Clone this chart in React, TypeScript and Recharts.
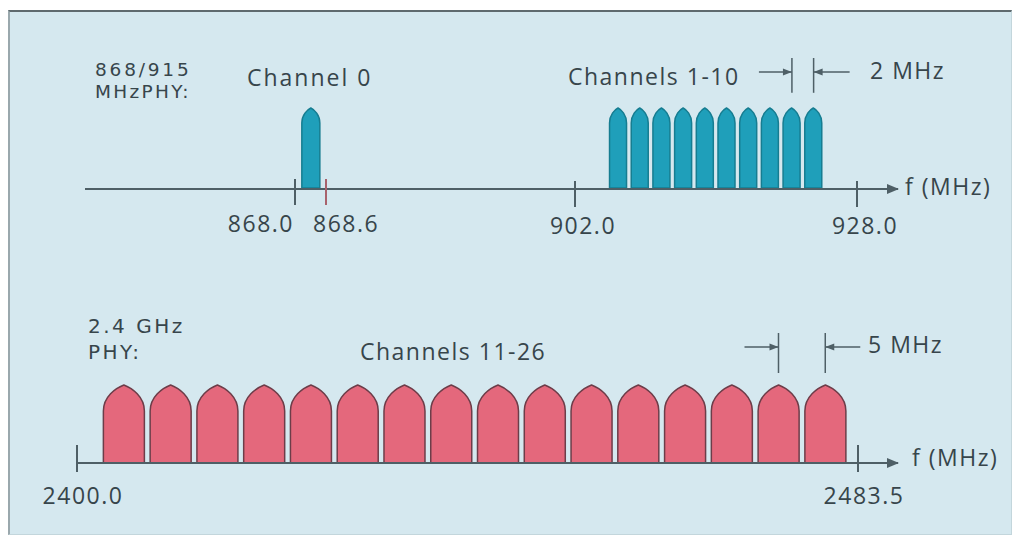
import { ComposedChart, Bar, XAxis, YAxis, ReferenceLine } from 'recharts';

const W = 1018;
const H = 543;

const PANEL_BG = '#d5e8ef';
const INK = '#37454b';
const AXIS = '#4e5f66';
const TEAL = '#1f9fba';
const TEAL_EDGE = '#167d91';
const PINK = '#e4687c';
const PINK_EDGE = '#6d3d49';
const FONT = '"Open Sans", "DejaVu Sans", sans-serif';
const SIDE_FONT = '"DejaVu Sans", sans-serif';

// 868/915 MHz PHY
const SUBGHZ_CHANNELS = [0, 1, 2, 3, 4, 5, 6, 7, 8, 9, 10];
const SUBGHZ_CENTER_MHZ = [868.3, 906, 908, 910, 912, 914, 916, 918, 920, 922, 924];
const BAND_868_EDGES = [868.0, 868.6];
const BAND_915_EDGES = [902.0, 928.0];
const SUBGHZ_SPACING_MHZ = [922, 924]; // 2 MHz apart

// 2.4 GHz PHY
const GHZ_CHANNELS = [11, 12, 13, 14, 15, 16, 17, 18, 19, 20, 21, 22, 23, 24, 25, 26];
const GHZ_CENTER_MHZ = [
  2405, 2410, 2415, 2420, 2425, 2430, 2435, 2440, 2445, 2450, 2455, 2460, 2465, 2470, 2475, 2480,
];
const BAND_2400_EDGES = [2400.0, 2483.5];
const GHZ_SPACING_MHZ = [2475, 2480]; // 5 MHz apart

// every channel is drawn at the same relative level
const CHANNEL_LEVEL = 1;

const subGhzData = SUBGHZ_CHANNELS.map((ch, i) => ({
  ch,
  f: SUBGHZ_CENTER_MHZ[i],
  eu: ch === 0 ? CHANNEL_LEVEL : null,
  us: ch > 0 ? CHANNEL_LEVEL : null,
}));

const ghzData = GHZ_CHANNELS.map((ch, i) => ({
  ch,
  f: GHZ_CENTER_MHZ[i],
  level: CHANNEL_LEVEL,
}));

// pointed "bullet" spectrum shape for a channel
const archShape = (fill: string, stroke: string, shoulder: number) => (p: any) => {
  const { x, y, width: w, height: h } = p;
  if (!(h > 0) || !(w > 0)) return null;
  const b = y + h;
  const s = y + Math.min(shoulder, h);
  const d =
    `M${x},${b} L${x},${s} ` +
    `C${x},${s - shoulder * 0.55} ${x + w * 0.3},${y + shoulder * 0.12} ${x + w / 2},${y} ` +
    `C${x + w * 0.7},${y + shoulder * 0.12} ${x + w},${s - shoulder * 0.55} ${x + w},${s} ` +
    `L${x + w},${b} Z`;
  return <path d={d} fill={fill} stroke={stroke} strokeWidth={1.5} strokeLinejoin="round" />;
};

// channel spacing marker: vertical line with an arrow pointing at it
const spacingMark = (side: 'left' | 'right', len: number) => (p: any) => {
  const { x1, y1, x2, y2 } = p;
  const x = x1;
  const ay = Math.min(y1, y2) + 14;
  const dir = side === 'left' ? -1 : 1;
  return (
    <g>
      <line x1={x1} y1={y1} x2={x2} y2={y2} stroke={AXIS} strokeWidth={1.5} />
      <line x1={x + dir * len} y1={ay} x2={x} y2={ay} stroke={AXIS} strokeWidth={1.5} />
      <path d={`M${x},${ay} L${x + dir * 9},${ay - 3.5} L${x + dir * 9},${ay + 3.5} Z`} fill={AXIS} />
    </g>
  );
};

interface TickStyle {
  up: number;
  down: number;
  labelDy: number;
  align?: ('start' | 'middle' | 'end')[];
  dx?: number[];
  colors?: string[];
}

const freqTick = (t: TickStyle) => (props: any) => {
  const { x, y, payload, index } = props;
  const anchor = t.align ? t.align[index] : 'middle';
  const dx = t.dx ? t.dx[index] : 0;
  const color = t.colors ? t.colors[index] : AXIS;
  return (
    <g>
      <line x1={x} x2={x} y1={y - t.up} y2={y + t.down} stroke={color} strokeWidth={2} />
      <text
        x={x + dx}
        y={y + t.labelDy}
        textAnchor={anchor}
        fontFamily={FONT}
        fontSize={23}
        letterSpacing={1.5}
        fill={INK}
      >
        {Number(payload.value).toFixed(1)}
      </text>
    </g>
  );
};

function SubGhzChart() {
  return (
    <ComposedChart
      width={W}
      height={265}
      data={subGhzData}
      margin={{ top: 28, right: 120, bottom: 75, left: 85 }}
    >
      <XAxis
        xAxisId="us"
        type="number"
        dataKey="f"
        domain={BAND_915_EDGES}
        allowDataOverflow
        ticks={BAND_915_EDGES}
        interval={0}
        padding={{ left: 490, right: 41 }}
        height={1}
        tickSize={0}
        tickMargin={0}
        tickLine={false}
        axisLine={{ stroke: AXIS, strokeWidth: 2, markerEnd: 'url(#axisArrow)' }}
        tick={freqTick({ up: 8, down: 18, labelDy: 45, dx: [8, 8] })}
      />
      <XAxis
        xAxisId="eu"
        type="number"
        dataKey="f"
        domain={BAND_868_EDGES}
        allowDataOverflow
        ticks={BAND_868_EDGES}
        interval={0}
        padding={{ left: 210, right: 572 }}
        height={1}
        tickSize={0}
        tickMargin={0}
        tickLine={false}
        axisLine={false}
        tick={freqTick({
          up: 9,
          down: 17,
          labelDy: 44,
          align: ['end', 'start'],
          dx: [-1, -13],
          colors: [AXIS, '#a8626c'],
        })}
      />
      <YAxis hide type="number" domain={[0, 2]} allowDataOverflow />
      <Bar
        xAxisId="eu"
        dataKey="eu"
        barSize={18}
        shape={archShape(TEAL, TEAL_EDGE, 15)}
        isAnimationActive={false}
      />
      <Bar
        xAxisId="us"
        dataKey="us"
        barSize={17}
        shape={archShape(TEAL, TEAL_EDGE, 15)}
        isAnimationActive={false}
      />
      {SUBGHZ_SPACING_MHZ.map((f, i) => (
        <ReferenceLine
          key={f}
          xAxisId="us"
          segment={[
            { x: f, y: 1.625 },
            { x: f, y: 1.19 },
          ]}
          shape={spacingMark(i === 0 ? 'left' : 'right', i === 0 ? 33 : 36)}
        />
      ))}
    </ComposedChart>
  );
}

function GhzChart() {
  return (
    <ComposedChart
      width={W}
      height={278}
      data={ghzData}
      margin={{ top: 42, right: 120, bottom: 79, left: 77 }}
    >
      <XAxis
        type="number"
        dataKey="f"
        domain={BAND_2400_EDGES}
        allowDataOverflow
        ticks={BAND_2400_EDGES}
        interval={0}
        padding={{ left: 0, right: 40 }}
        height={1}
        tickSize={0}
        tickMargin={0}
        tickLine={false}
        axisLine={{ stroke: AXIS, strokeWidth: 2, markerEnd: 'url(#axisArrow)' }}
        tick={freqTick({ up: 18, down: 9, labelDy: 41, dx: [6, 6] })}
      />
      <YAxis hide type="number" domain={[0, 2]} allowDataOverflow />
      <Bar
        dataKey="level"
        barSize={41}
        shape={archShape(PINK, PINK_EDGE, 26)}
        isAnimationActive={false}
      />
      {GHZ_SPACING_MHZ.map((f, i) => (
        <ReferenceLine
          key={f}
          segment={[
            { x: f, y: 1.667 },
            { x: f, y: 1.154 },
          ]}
          shape={spacingMark(i === 0 ? 'left' : 'right', i === 0 ? 34 : 35)}
        />
      ))}
    </ComposedChart>
  );
}

const txt = { fontFamily: FONT, fill: INK, letterSpacing: 1.5 } as const;
const side = { fontFamily: SIDE_FONT, fill: INK } as const;

export default function App() {
  return (
    <div
      style={{
        position: 'absolute',
        left: 0,
        top: 0,
        width: W,
        height: H,
        background: '#ffffff',
        overflow: 'hidden',
      }}
    >
      <div
        style={{
          position: 'absolute',
          left: 8,
          top: 10,
          width: 1004,
          height: 525,
          background: PANEL_BG,
          borderTop: '2px solid #5f6a6e',
          borderLeft: '2px solid #9aa8ad',
          borderRight: '1px solid #c3d6dc',
          borderBottom: '1px solid #c3d6dc',
          boxSizing: 'border-box',
        }}
      />
      <div style={{ position: 'absolute', left: 0, top: 0 }}>
        <SubGhzChart />
      </div>
      <div style={{ position: 'absolute', left: 0, top: 265 }}>
        <GhzChart />
      </div>
      <svg
        width={W}
        height={H}
        style={{ position: 'absolute', left: 0, top: 0, pointerEvents: 'none' }}
      >
        <defs>
          <marker
            id="axisArrow"
            markerWidth={12}
            markerHeight={10}
            refX={11}
            refY={5}
            orient="auto"
            markerUnits="userSpaceOnUse"
          >
            <path d="M0,0 L12,5 L0,10 Z" fill={AXIS} />
          </marker>
        </defs>
        {/* 868/915 MHz PHY */}
        <text x={95} y={76} fontSize={18.5} letterSpacing={2.8} {...side}>868/915</text>
        <text x={95} y={98} fontSize={18.5} letterSpacing={2.3} {...side}>MHzPHY:</text>
        <text x={247} y={86} fontSize={23} {...txt} letterSpacing={2}>Channel 0</text>
        <text x={568} y={85} fontSize={23} {...txt}>Channels 1-10</text>
        <text x={870} y={79} fontSize={23} {...txt}>2 MHz</text>
        <text x={905} y={195} fontSize={23} {...txt}>f (MHz)</text>
        {/* 2.4 GHz PHY */}
        <text x={88} y={333} fontSize={20} letterSpacing={2.5} {...side}>2.4 GHz</text>
        <text x={88} y={359} fontSize={20} letterSpacing={2.5} {...side}>PHY:</text>
        <text x={360} y={360} fontSize={23} {...txt}>Channels 11-26</text>
        <text x={868} y={353} fontSize={23} {...txt}>5 MHz</text>
        <text x={912} y={466} fontSize={23} {...txt}>f (MHz)</text>
      </svg>
    </div>
  );
}
